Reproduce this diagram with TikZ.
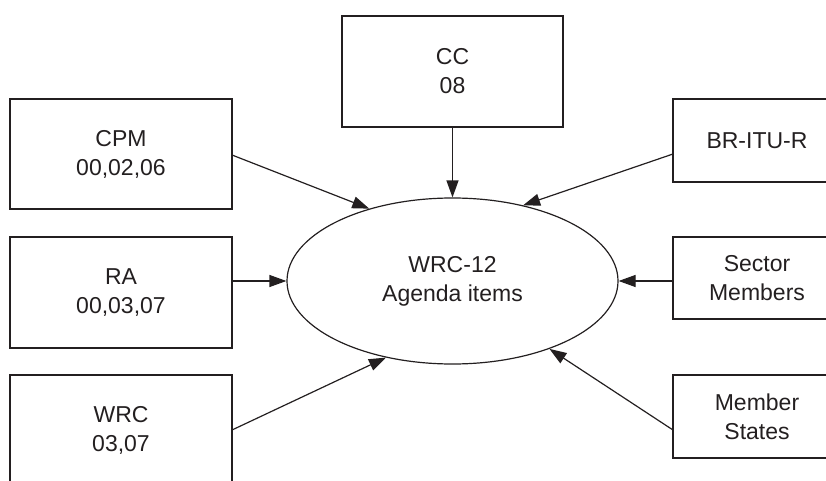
\documentclass[tikz,border=0pt]{standalone}
\usepackage{fontspec}
\setmainfont{Liberation Sans}
\usetikzlibrary{arrows.meta,shapes.geometric}
\definecolor{ink}{HTML}{231F20}
\begin{document}
\begin{tikzpicture}[x=1pt,y=-1pt,
  every node/.style={font=\fontsize{23}{29}\selectfont, text=ink, align=center, inner sep=0pt},
  srcbox/.style={draw=ink, line width=1.3pt, rectangle, minimum width=222pt, minimum height=110pt},
  rbox/.style={draw=ink, line width=1.3pt, rectangle, minimum width=168pt, minimum height=83pt},
  conn/.style={draw=ink, line width=1.2pt, -{Triangle[length=17pt,width=12pt]}}]
\useasboundingbox (0,0) rectangle (826,481);
\clip (0,0) rectangle (826,481);
\node[srcbox] (cpm) at (121,154) {CPM\\00,02,06};
\node[srcbox, minimum height=111pt] (ra) at (121,292.5) {RA\\00,03,07};
\node[srcbox] (wrc) at (121,430) {WRC\\03,07};
\node[srcbox, minimum width=221pt, minimum height=111pt] (cc) at (452.5,71.5) {CC\\08};
\node[rbox] (br) at (757,140.5) {BR-ITU-R};
\node[rbox, minimum height=82pt] (sm) at (757,278) {Sector\\Members};
\node[rbox] (ms) at (757,416.5) {Member\\States};
\node[ellipse, draw=ink, line width=1.2pt, minimum width=331pt, minimum height=166pt] (e) at (452.5,281) {WRC-12\\Agenda items};
\coordinate (cpmo) at (232,155);
\coordinate (wrco) at (232,430);
\coordinate (bro) at (673,154);
\coordinate (mso) at (673,430);
\path[conn] (cpmo) -- (e.139);
\path[conn] (ra.east |- e.west) -- (e.west);
\path[conn] (wrco) -- (e.229);
\path[conn] (cc.south) -- (e.north);
\path[conn] (bro) -- (e.47);
\path[conn] (sm.west |- e.east) -- (e.east);
\path[conn] (mso) -- (e.325);
\end{tikzpicture}
\end{document}
